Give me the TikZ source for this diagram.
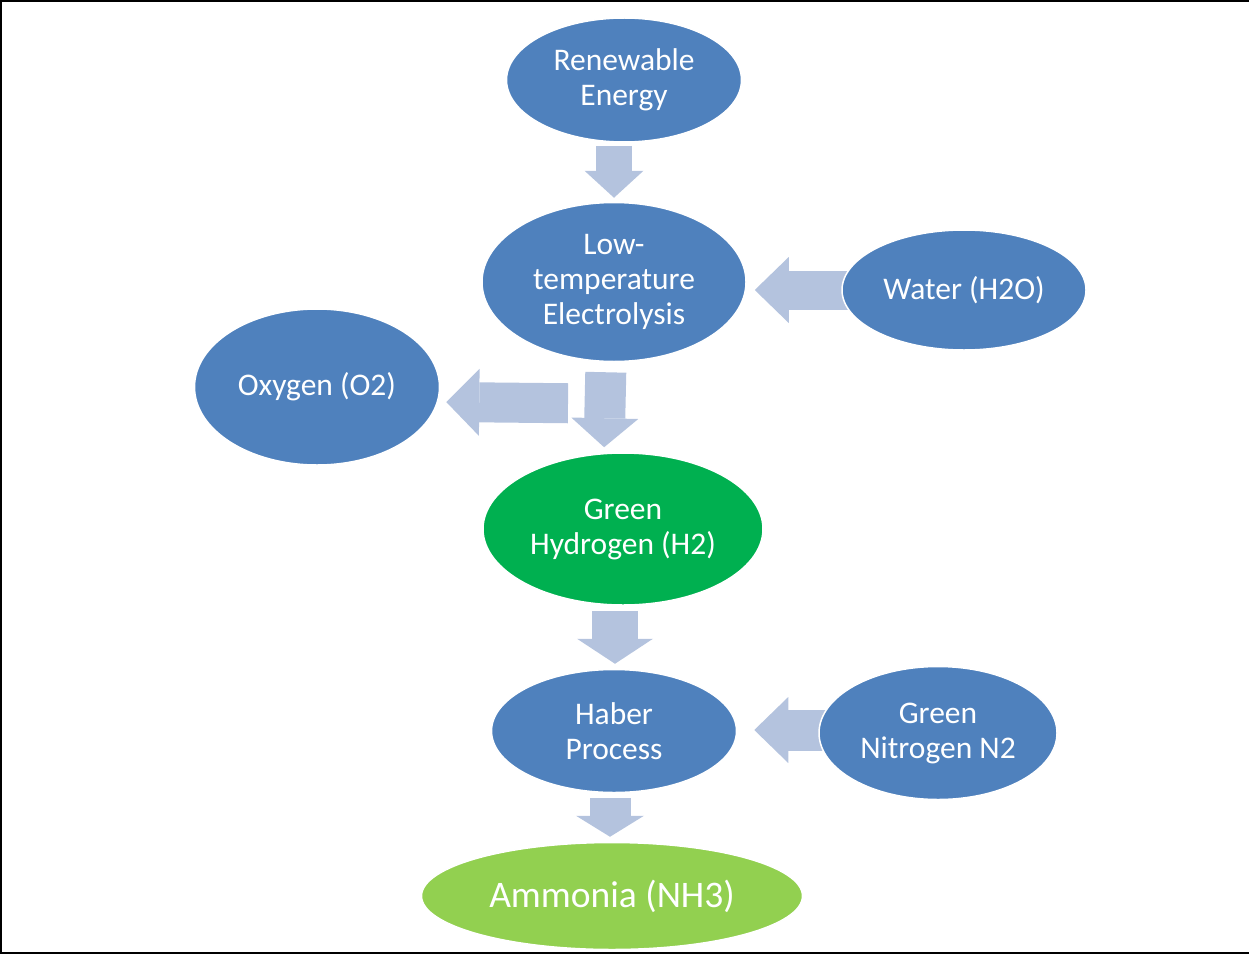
\documentclass[tikz,border=0pt]{standalone}
\usepackage{fontspec}
\setmainfont{Carlito}
\usetikzlibrary{positioning,shapes.geometric,arrows.meta}
\definecolor{nodeblue}{HTML}{4F81BD}
\definecolor{hydgreen}{HTML}{00B050}
\definecolor{ammgreen}{HTML}{92D050}
\definecolor{arrowfill}{HTML}{B4C3DE}
\pgfdeclarelayer{bg}
\pgfsetlayers{bg,main}

\begin{document}
\begin{tikzpicture}[x=1pt,y=-1pt,
  stage/.style={ellipse,draw=white,line width=1.5pt,fill=nodeblue,text=white,inner sep=0pt,align=center,font=\fontsize{31.5}{35}\selectfont},
  blk/.style n args={3}{draw=arrowfill,line width=#1,-{Triangle[length=#2,width=#3,line width=0pt]}}]
  \useasboundingbox (0,0) rectangle (1249,955);
  \draw[line width=2pt] (1249,1) -- (1,1) -- (1,953) -- (1249,953);
  % stages
  \node[stage,minimum width=235pt,minimum height=124pt] (renew) at (624,80) {Renewable\\Energy};
  \node[stage,minimum width=264pt,minimum height=159pt] (elec) at (614,282) {Low-\\temperature\\Electrolysis};
  \node[stage,minimum width=244pt,minimum height=120pt] (water) at (964,290) {Water (H2O)};
  \node[stage,minimum width=245pt,minimum height=156pt] (ox) at (317,387) {Oxygen (O2)};
  \node[stage,fill=hydgreen,minimum width=280pt,minimum height=152pt] (h2) at (623,529) {Green\\Hydrogen (H2)};
  \node[stage,minimum width=245pt,minimum height=123pt] (haber) at (614,731) {Haber\\Process};
  \node[stage,minimum width=238pt,minimum height=133pt] (nit) at (938,733) {Green\\Nitrogen N2};
  \node[stage,fill=ammgreen,minimum width=381pt,minimum height=107pt,font=\fontsize{37.5}{42}\selectfont] (amm) at (612,896) {Ammonia (NH3)};
  % block arrows
  \begin{pgfonlayer}{bg}
    \draw[blk={36pt}{27pt}{59pt},shorten <=3pt,shorten >=4pt] ([xshift=-10pt]renew.south) -- (elec.north);
    \draw[blk={41pt}{29pt}{67pt},shorten <=10pt,shorten >=5pt] ([xshift=-8pt]elec.south) -- ([xshift=-19pt]h2.north);
    \draw[blk={39pt}{34pt}{66pt},shorten <=-10pt,shorten >=8pt] (water.west) -- (water.west -| elec.east);
    \draw[blk={40pt}{33pt}{67pt}] ([shift={(-46,41)}]elec.south) -- ([shift={(6,15)}]ox.east);
    \draw[blk={46pt}{25pt}{76pt},shorten <=5pt,shorten >=5pt] ([xshift=-8pt]h2.south) -- ([xshift=1pt]haber.north);
    \draw[blk={41pt}{34pt}{66pt},shorten <=-10pt,shorten >=17pt] ([yshift=3pt]nit.west) -- ([yshift=3pt]nit.west -| haber.east);
    \draw[blk={41pt}{21pt}{68pt},shorten <=5pt,shorten >=5pt] ([xshift=-4pt]haber.south) -- ([xshift=-2pt]amm.north);
  \end{pgfonlayer}
\end{tikzpicture}
\end{document}
